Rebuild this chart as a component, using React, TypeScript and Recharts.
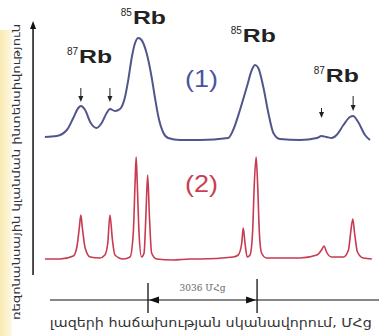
import React from "react";
import { LineChart, Line, XAxis, YAxis, ReferenceLine, ReferenceDot, ReferenceArea } from "recharts";

// trace (1): Doppler-broadened absorption, trace (2): sub-Doppler spectrum. Frequency in MHz, signal in arb. units
const freq1 = [0, 330, 610, 790, 930, 1000, 1120, 1260, 1440, 1580, 1720, 1810, 1950, 2090, 2230, 2320, 2420, 2510, 2600, 2690, 2830, 2970, 3060, 3160, 3300, 3430, 3760, 4320, 5100, 5240, 5430, 5620, 5760, 5850, 5940, 6080, 6220, 6360, 6540, 7100, 7570, 7700, 7840, 7980, 8120, 8310, 8490, 8580, 8720, 8910, 9050];
const signal1 = [3, 4, 10, 22, 32, 34, 30, 18, 12, 17, 27, 31, 29, 31, 43, 60, 83, 97, 102, 100, 87, 63, 43, 23, 7, 2, 0, 0, 2, 10, 30, 53, 70, 75, 72, 53, 27, 7, 1, 0, 2, 4, 3, 2, 5, 15, 23, 24, 18, 5, 0];

const freq2 = [0, 420, 790, 890, 960, 1000, 1040, 1120, 1260, 1530, 1670, 1750, 1810, 1880, 1950, 2180, 2370, 2460, 2510, 2540, 2570, 2620, 2690, 2760, 2810, 2860, 2910, 2970, 3110, 3570, 4040, 4320, 5240, 5380, 5480, 5520, 5570, 5630, 5710, 5780, 5830, 5880, 5920, 5970, 6030, 6170, 7100, 7570, 7700, 7770, 7840, 7980, 8310, 8450, 8510, 8570, 8620, 8700, 8860, 9100];
const signal2 = [1, 1, 4, 13, 33, 45, 33, 12, 3, 2, 5, 17, 45, 20, 5, 1, 3, 27, 77, 103, 77, 27, 3, 7, 43, 85, 43, 7, 1, 0, 1, 1, 3, 5, 17, 32, 17, 3, 5, 27, 77, 103, 77, 27, 7, 2, 2, 5, 10, 14, 8, 3, 3, 10, 27, 41, 27, 8, 2, 1];

// 85Rb hyperfine spacing marked under the axis
const spacingStart = 2870;
const spacingMHz = 3036;

const isotopeLabels = [
    { iso: "85", f: 2450, v: 116 },
    { iso: "85", f: 5510, v: 98 },
    { iso: "87", f: 950, v: 77 },
    { iso: "87", f: 7820, v: 58 },
];
const arrowMarks = [
    { f: 1000, from: 52, to: 38 },
    { f: 1810, from: 52, to: 38 },
    { f: 7700, from: 32, to: 22 },
    { f: 8580, from: 44, to: 29 },
];

const trace1 = freq1.map((f, i) => ({ f, v: signal1[i] }));
const trace2 = freq2.map((f, i) => ({ f, v: signal2[i] }));

const armenian = "'DejaVu Sans', sans-serif";
const latin = "'Liberation Sans', Arial, sans-serif";

export default function App() {
    const spacingEnd = spacingStart + spacingMHz;
    return (
        <div style={{ position: "absolute", left: 0, top: 0, width: 379, height: 336, background: "#fff" }}>
            <LineChart width={379} height={336} margin={{ top: 0, right: 0, bottom: 0, left: 0 }}>
                <defs>
                    <linearGradient id="strip" x1="0" y1="0" x2="1" y2="0">
                        <stop offset="0%" stopColor="#f8ebb0" />
                        <stop offset="100%" stopColor="#fdf7e2" />
                    </linearGradient>
                </defs>
                <XAxis type="number" dataKey="f" domain={[-1250, 9300]} hide allowDataOverflow />
                <YAxis yAxisId="s1" type="number" domain={[-196, 140]} hide allowDataOverflow />
                <YAxis yAxisId="s2" type="number" domain={[-76, 260]} hide allowDataOverflow />

                <ReferenceArea yAxisId="s1" x1={-1250} x2={-930} y1={-196} y2={110} fill="url(#strip)" fillOpacity={1} stroke="none" ifOverflow="visible" />

                {/* y axis arrow */}
                <ReferenceLine yAxisId="s1" segment={[{ x: -330, y: -135 }, { x: -330, y: 112 }]} stroke="#111" strokeWidth={1.5} ifOverflow="visible" />
                <ReferenceDot yAxisId="s1" x={-330} y={119} r={0} ifOverflow="visible"
                    shape={(p: any) => <polygon points={`${p.cx},${p.cy} ${p.cx - 3},${p.cy + 8} ${p.cx + 3},${p.cy + 8}`} fill="#111" />} />
                <ReferenceDot yAxisId="s1" x={-780} y={-32} r={0} ifOverflow="visible"
                    shape={(p: any) => (
                        <text x={p.cx} y={p.cy} transform={`rotate(-90 ${p.cx} ${p.cy})`} textAnchor="middle" dominantBaseline="middle"
                            fontSize={11} fontFamily={armenian} fill="#333" textLength={296} lengthAdjust="spacingAndGlyphs">
                            ռեզոնանսային կլանման ինտենսիվություն
                        </text>
                    )} />

                {/* frequency axis with spacing marker */}
                <ReferenceLine yAxisId="s2" segment={[{ x: 140, y: -40 }, { x: 9300, y: -40 }]} stroke="#111" strokeWidth={1.2} ifOverflow="visible" />
                <ReferenceLine yAxisId="s2" segment={[{ x: spacingStart, y: -23 }, { x: spacingStart, y: -53 }]} stroke="#111" strokeWidth={1.3} ifOverflow="visible" />
                <ReferenceLine yAxisId="s2" segment={[{ x: spacingEnd, y: -19 }, { x: spacingEnd, y: -53 }]} stroke="#111" strokeWidth={1.3} ifOverflow="visible" />
                <ReferenceDot yAxisId="s2" x={spacingStart} y={-40} r={0} ifOverflow="visible"
                    shape={(p: any) => <polygon points={`${p.cx + 1},${p.cy} ${p.cx + 11},${p.cy - 3.5} ${p.cx + 11},${p.cy + 3.5}`} fill="#111" />} />
                <ReferenceDot yAxisId="s2" x={spacingEnd} y={-40} r={0} ifOverflow="visible"
                    shape={(p: any) => <polygon points={`${p.cx - 1},${p.cy} ${p.cx - 11},${p.cy - 3.5} ${p.cx - 11},${p.cy + 3.5}`} fill="#111" />} />
                <ReferenceDot yAxisId="s2" x={spacingStart + spacingMHz / 2} y={-31} r={0} ifOverflow="visible"
                    shape={(p: any) => (
                        <text x={p.cx} y={p.cy} textAnchor="middle" fontSize={9} fontFamily="'DejaVu Serif', serif" fill="#666">{spacingMHz} ՄՀց</text>
                    )} />
                <ReferenceDot yAxisId="s2" x={4620} y={-67} r={0} ifOverflow="visible"
                    shape={(p: any) => (
                        <text x={p.cx} y={p.cy} textAnchor="middle" fontSize={12.5} fontFamily={armenian} fill="#333" textLength={322} lengthAdjust="spacingAndGlyphs">
                            լազերի հաճախության սկանավորում, ՄՀց
                        </text>
                    )} />

                {/* peak labels and markers */}
                {isotopeLabels.map((l, i) => (
                    <ReferenceDot key={"iso" + i} yAxisId="s1" x={l.f} y={l.v} r={0} ifOverflow="visible"
                        shape={(p: any) => (
                            <g fontFamily={latin} fill="#222">
                                <text x={p.cx - 1} y={p.cy - 8} fontSize={10} textAnchor="end">{l.iso}</text>
                                <text x={p.cx} y={p.cy} fontSize={18} fontWeight="bold" textLength={33} lengthAdjust="spacingAndGlyphs">Rb</text>
                            </g>
                        )} />
                ))}
                {arrowMarks.map((a, i) => (
                    <ReferenceLine key={"al" + i} yAxisId="s1" segment={[{ x: a.f, y: a.from }, { x: a.f, y: a.to + 4 }]} stroke="#222" strokeWidth={1} ifOverflow="visible" />
                ))}
                {arrowMarks.map((a, i) => (
                    <ReferenceDot key={"ad" + i} yAxisId="s1" x={a.f} y={a.to} r={0} ifOverflow="visible"
                        shape={(p: any) => <polygon points={`${p.cx},${p.cy} ${p.cx - 2.5},${p.cy - 6} ${p.cx + 2.5},${p.cy - 6}`} fill="#222" />} />
                ))}
                <ReferenceDot yAxisId="s1" x={3900} y={53} r={0} ifOverflow="visible"
                    shape={(p: any) => <text x={p.cx} y={p.cy} fontSize={24} fontFamily={latin} fill="#4b54a0" textLength={33} lengthAdjust="spacingAndGlyphs">(1)</text>} />
                <ReferenceDot yAxisId="s2" x={3900} y={68} r={0} ifOverflow="visible"
                    shape={(p: any) => <text x={p.cx} y={p.cy} fontSize={24} fontFamily={latin} fill="#c8404f" textLength={33} lengthAdjust="spacingAndGlyphs">(2)</text>} />

                <Line yAxisId="s1" data={trace1} dataKey="v" type="monotone" stroke="#50568a" strokeWidth={2} dot={false} activeDot={false} legendType="none" isAnimationActive={false} />
                <Line yAxisId="s2" data={trace2} dataKey="v" type="monotone" stroke="#c73a50" strokeWidth={1.6} dot={false} activeDot={false} legendType="none" isAnimationActive={false} />
            </LineChart>
        </div>
    );
}
